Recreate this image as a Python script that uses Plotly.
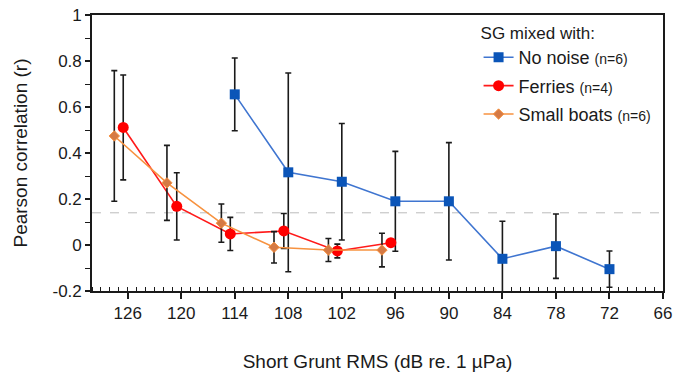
import plotly.graph_objects as go

# ---- data ----
noise_x = [114, 108, 102, 96, 90, 84, 78, 72]
noise_y = [0.655, 0.316, 0.275, 0.19, 0.19, -0.06, -0.005, -0.105]
noise_err = [0.158, 0.432, 0.253, 0.217, 0.255, 0.163, 0.14, 0.079]

ferry_x = [126.5, 120.5, 114.5, 108.5, 102.5, 96.5]
ferry_y = [0.511, 0.168, 0.048, 0.061, -0.026, 0.01]
ferry_err = [0.228, 0.146, 0.072, 0.076, 0.03, 0.0]

boat_x = [127.5, 121.6, 115.5, 109.6, 103.5, 97.5]
boat_y = [0.474, 0.27, 0.095, -0.01, -0.022, -0.022]
boat_err = [0.284, 0.163, 0.083, 0.068, 0.05, 0.073]

x_ticks = [126, 120, 114, 108, 102, 96, 90, 84, 78, 72, 66]
y_ticks = [1, 0.8, 0.6, 0.4, 0.2, 0, -0.2]
y_ticktext = ["1", "0.8", "0.6", "0.4", "0.2", "0", "-0.2"]
threshold = 0.14

FONT = "Liberation Sans, Arial, sans-serif"

def err(vals):
    return dict(type="data", array=vals, visible=True, color="#1a1a1a",
                thickness=1.6, width=3)

fig = go.Figure()
fig.add_trace(go.Scatter(
    x=noise_x, y=noise_y, mode="lines+markers",
    name="No noise <span style='font-size:14px'>(n=6)</span>",
    legendgroup="a",
    line=dict(color="#3f75d0", width=1.6),
    marker=dict(symbol="square", size=10, color="#0b55b8"),
    error_y=err(noise_err)))
fig.add_trace(go.Scatter(
    x=ferry_x, y=ferry_y, mode="lines+markers",
    name="Ferries <span style='font-size:14px'>(n=4)</span>",
    legendgroup="b",
    line=dict(color="#ff1a1a", width=1.6),
    marker=dict(symbol="circle", size=11, color="#ff0000"),
    error_y=err(ferry_err)))
fig.add_trace(go.Scatter(
    x=boat_x, y=boat_y, mode="lines+markers",
    name="Small boats <span style='font-size:14px'>(n=6)</span>",
    legendgroup="c",
    line=dict(color="#f7923f", width=1.6),
    marker=dict(symbol="diamond", size=8, color="#d57a45",
                line=dict(color="#f7923f", width=1)),
    error_y=err(boat_err)))

fig.add_shape(type="line", xref="paper", yref="y", x0=0, x1=1,
              y0=threshold, y1=threshold,
              line=dict(color="#bbbbbb", width=1, dash="dash"), layer="below")

fig.update_layout(
    width=688, height=374,
    margin=dict(l=92, r=25, t=15, b=83),
    paper_bgcolor="white", plot_bgcolor="white",
    font=dict(family=FONT, color="#1a1a1a", size=17),
    showlegend=True,
    legend=dict(
        title=dict(text="SG mixed with:", font=dict(size=17)),
        x=0.677, y=0.993, xanchor="left", yanchor="top",
        bgcolor="rgba(0,0,0,0)", font=dict(size=18),
        tracegroupgap=2, itemwidth=30,
    ),
)
fig.update_xaxes(
    range=[130, 66], tickvals=x_ticks, automargin=False,
    showline=True, linecolor="#1a1a1a", linewidth=1.6, mirror=True,
    ticks="outside", ticklen=6, tickwidth=1.5, tickcolor="#1a1a1a",
    ticklabelstandoff=0,
    minor=dict(ticks="inside", dtick=1, ticklen=4, tickwidth=1.2, tickcolor="#1a1a1a"),
    showgrid=False, zeroline=False,
    tickfont=dict(size=17),
    title=dict(text="Short Grunt RMS (dB re. 1 µPa)", font=dict(size=19), standoff=32),
)
fig.update_yaxes(
    range=[-0.2, 1], tickvals=y_ticks, ticktext=y_ticktext, automargin=False,
    showline=True, linecolor="#1a1a1a", linewidth=1.6, mirror=True,
    ticks="outside", ticklen=5, tickwidth=1.5, tickcolor="#1a1a1a",
    minor=dict(ticks="outside", dtick=0.1, ticklen=5, tickwidth=1.2, tickcolor="#1a1a1a"),
    showgrid=False, zeroline=False,
    tickfont=dict(size=17),
    title=dict(text="Pearson correlation (r)", font=dict(size=19), standoff=20),
)

fig.write_html("out.html")
